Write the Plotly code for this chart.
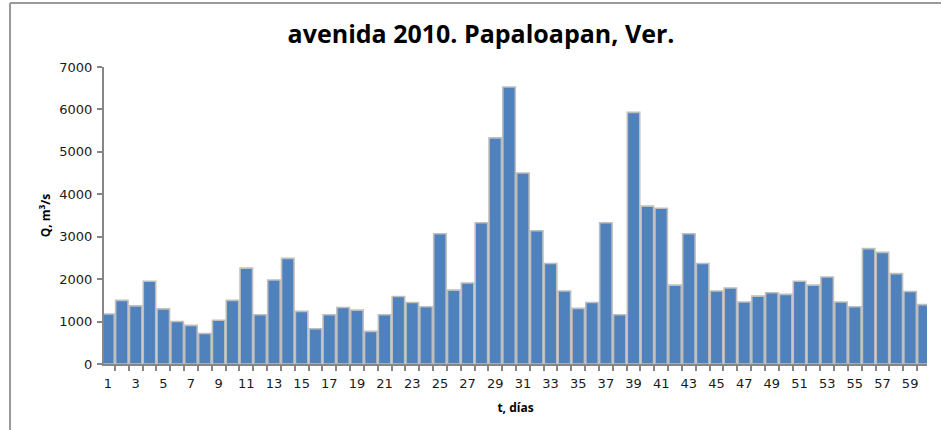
import plotly.graph_objects as go

# Daily discharge, flood of 2010 at Papaloapan, Ver.
dias = list(range(1, 61))
caudal = [
    1180, 1500, 1370, 1950, 1300, 1000, 910, 720, 1030, 1500,
    2260, 1160, 1980, 2490, 1240, 830, 1160, 1330, 1270, 770,
    1160, 1590, 1450, 1350, 3070, 1740, 1910, 3330, 5330, 6530,
    4500, 3140, 2370, 1720, 1310, 1450, 3330, 1160, 5930, 3720,
    3670, 1860, 3070, 2370, 1720, 1790, 1460, 1600, 1680, 1640,
    1950, 1860, 2050, 1460, 1350, 2720, 2630, 2130, 1710, 1400,
]
etiquetas_x = [str(d) for d in range(1, 60, 2)]
ticks_y = list(range(0, 7001, 1000))

W, H = 941, 430
ML, MR, MT, MB = 104, 14, 67, 66

fig = go.Figure(
    go.Bar(
        x=dias,
        y=caudal,
        marker=dict(color="#4F81BD", line=dict(color="#BEBEBE", width=1.6)),
        width=0.9,
    )
)

font_tick = dict(family="DejaVu Sans", size=13, color="#1a1a1a")
font_axis_title = dict(family="Open Sans", size=12, color="black")

fig.update_layout(
    width=W,
    height=H,
    margin=dict(l=ML, r=MR, t=MT, b=MB),
    paper_bgcolor="white",
    plot_bgcolor="white",
    showlegend=False,
    title=dict(
        text="<b>avenida 2010. Papaloapan, Ver.</b>",
        font=dict(family="Open Sans", size=25, color="black"),
        x=481 / W,
        xanchor="center",
        y=1 - 34 / H,
        yanchor="middle",
    ),
    xaxis=dict(
        range=[0.71, 60.22],
        tickmode="array",
        tickvals=list(range(1, 60, 2)),
        ticktext=etiquetas_x,
        ticks="",
        tickfont=font_tick,
        ticklabelstandoff=6,
        showline=True,
        linecolor="#868686",
        linewidth=2,
        showgrid=False,
        zeroline=False,
        minor=dict(tick0=0.5, dtick=1, ticks="outside", ticklen=5,
                   tickcolor="#868686", tickwidth=1.5, showgrid=False),
        title=dict(text="<b>t, días</b>", font=font_axis_title, standoff=14),
    ),
    yaxis=dict(
        range=[0, 7000],
        tickmode="array",
        tickvals=ticks_y,
        ticks="outside",
        ticklen=5,
        tickcolor="#868686",
        tickwidth=1.5,
        tickfont=font_tick,
        ticklabelstandoff=2,
        showline=True,
        linecolor="#868686",
        linewidth=2,
        showgrid=False,
        zeroline=False,
        title=dict(text="<b>Q, m<sup>3</sup>/s</b>", font=font_axis_title,
                   standoff=6),
    ),
)

# Chart frame (left and top edges)
pw, ph = W - ML - MR, H - MT - MB
def px(x):
    return (x - ML) / pw
def py(y):
    return (H - MB - y) / ph

fig.add_shape(type="line", xref="paper", yref="paper",
              x0=px(10), x1=px(W + 5), y0=py(3), y1=py(3),
              line=dict(color="#9a9a9a", width=2))
fig.add_shape(type="line", xref="paper", yref="paper",
              x0=px(10), x1=px(10), y0=py(3), y1=py(H + 5),
              line=dict(color="#9a9a9a", width=2))

fig.write_html("out.html")
